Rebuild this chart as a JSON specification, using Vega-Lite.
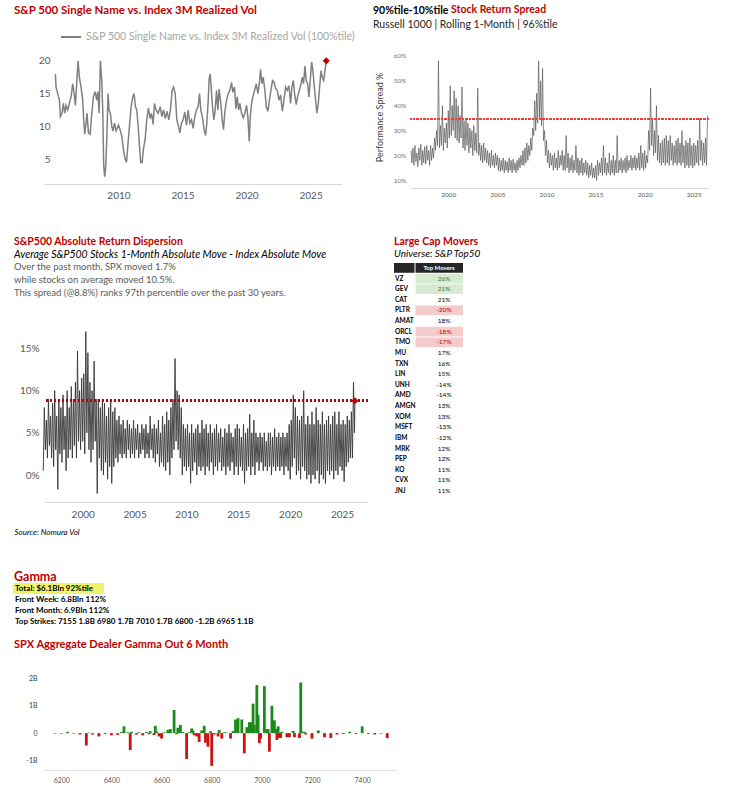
{
"$schema": "https://vega.github.io/schema/vega-lite/v6.json",
"padding": {"left": 13, "top": 4, "right": 4, "bottom": 2},
"background": "white",
"config": {"font": "Lato", "view": {"stroke": null}, "axis": {"labelFont": "Lato", "titleFont": "Lato", "labelOverlap": false}, "legend": {"labelFont": "Lato", "titleFont": "Lato"}, "title": {"font": "Lato", "subtitleFont": "Lato"}},
"datasets": {
"tl": [{"t":2005.08,"v":18},{"t":2005.13,"v":16},{"t":2005.26,"v":15},{"t":2005.39,"v":14},{"t":2005.47,"v":11.5},{"t":2005.6,"v":12},{"t":2005.7,"v":13.5},{"t":2005.81,"v":12},{"t":2005.91,"v":13.2},{"t":2006.04,"v":12.5},{"t":2006.17,"v":13.5},{"t":2006.3,"v":14.5},{"t":2006.43,"v":16.5},{"t":2006.54,"v":15},{"t":2006.64,"v":13.2},{"t":2006.74,"v":16.5},{"t":2006.85,"v":20},{"t":2006.95,"v":17.5},{"t":2007.08,"v":16},{"t":2007.21,"v":14},{"t":2007.29,"v":11},{"t":2007.37,"v":8.8},{"t":2007.47,"v":10.5},{"t":2007.55,"v":12},{"t":2007.66,"v":9},{"t":2007.79,"v":8.8},{"t":2007.92,"v":12},{"t":2008.05,"v":14.5},{"t":2008.18,"v":15.3},{"t":2008.31,"v":14},{"t":2008.39,"v":15.3},{"t":2008.49,"v":12},{"t":2008.59,"v":20},{"t":2008.7,"v":17},{"t":2008.78,"v":12},{"t":2008.85,"v":4},{"t":2008.93,"v":2.3},{"t":2009.01,"v":4},{"t":2009.09,"v":8},{"t":2009.19,"v":15},{"t":2009.27,"v":12.5},{"t":2009.37,"v":12},{"t":2009.48,"v":10},{"t":2009.58,"v":9.3},{"t":2009.69,"v":10.5},{"t":2009.82,"v":9.3},{"t":2010.0,"v":10.2},{"t":2010.13,"v":9.5},{"t":2010.26,"v":8.5},{"t":2010.39,"v":6.5},{"t":2010.52,"v":5},{"t":2010.63,"v":4.5},{"t":2010.73,"v":7},{"t":2010.86,"v":10},{"t":2010.99,"v":13},{"t":2011.12,"v":14.5},{"t":2011.22,"v":15},{"t":2011.33,"v":13},{"t":2011.43,"v":12.5},{"t":2011.54,"v":10},{"t":2011.64,"v":7},{"t":2011.74,"v":4.5},{"t":2011.85,"v":4.5},{"t":2011.95,"v":6.5},{"t":2012.08,"v":8},{"t":2012.21,"v":11},{"t":2012.34,"v":12.8},{"t":2012.47,"v":11.2},{"t":2012.58,"v":12},{"t":2012.71,"v":10.3},{"t":2012.81,"v":13.5},{"t":2012.94,"v":12.5},{"t":2013.1,"v":12},{"t":2013.26,"v":13},{"t":2013.39,"v":11.5},{"t":2013.52,"v":12.5},{"t":2013.65,"v":11.2},{"t":2013.8,"v":12.3},{"t":2013.93,"v":11},{"t":2014.06,"v":12.5},{"t":2014.19,"v":15.5},{"t":2014.3,"v":16},{"t":2014.43,"v":15},{"t":2014.56,"v":11},{"t":2014.69,"v":10},{"t":2014.79,"v":9},{"t":2014.92,"v":10.5},{"t":2015.05,"v":11},{"t":2015.18,"v":12.2},{"t":2015.31,"v":10.2},{"t":2015.44,"v":12.5},{"t":2015.57,"v":10.5},{"t":2015.7,"v":11},{"t":2015.83,"v":9.7},{"t":2015.96,"v":11.5},{"t":2016.09,"v":12.5},{"t":2016.22,"v":13},{"t":2016.33,"v":15},{"t":2016.43,"v":12.5},{"t":2016.56,"v":11.3},{"t":2016.69,"v":9.5},{"t":2016.8,"v":8.6},{"t":2016.9,"v":10.5},{"t":2017.01,"v":14},{"t":2017.08,"v":17.3},{"t":2017.16,"v":18},{"t":2017.24,"v":16},{"t":2017.34,"v":13},{"t":2017.45,"v":11},{"t":2017.55,"v":12.5},{"t":2017.66,"v":15.5},{"t":2017.76,"v":12.5},{"t":2017.86,"v":15.7},{"t":2017.99,"v":13.5},{"t":2018.1,"v":11},{"t":2018.2,"v":9.5},{"t":2018.31,"v":12.3},{"t":2018.44,"v":14},{"t":2018.57,"v":15},{"t":2018.7,"v":15.5},{"t":2018.83,"v":16.7},{"t":2018.93,"v":15.2},{"t":2019.06,"v":16},{"t":2019.17,"v":12.7},{"t":2019.27,"v":14.5},{"t":2019.38,"v":12.5},{"t":2019.48,"v":13.5},{"t":2019.61,"v":12},{"t":2019.74,"v":11.3},{"t":2019.87,"v":12},{"t":2020.0,"v":13.2},{"t":2020.1,"v":11.5},{"t":2020.21,"v":7.7},{"t":2020.29,"v":11.5},{"t":2020.39,"v":13.5},{"t":2020.49,"v":14.5},{"t":2020.63,"v":15.5},{"t":2020.76,"v":16.5},{"t":2020.89,"v":15},{"t":2021.02,"v":17},{"t":2021.09,"v":18.7},{"t":2021.2,"v":16.5},{"t":2021.3,"v":17.5},{"t":2021.43,"v":15.5},{"t":2021.54,"v":13},{"t":2021.67,"v":12.3},{"t":2021.77,"v":13.8},{"t":2021.9,"v":15.5},{"t":2022.03,"v":17},{"t":2022.14,"v":16.8},{"t":2022.27,"v":15.8},{"t":2022.4,"v":15.5},{"t":2022.53,"v":14},{"t":2022.66,"v":14.8},{"t":2022.79,"v":12.3},{"t":2022.92,"v":14},{"t":2023.05,"v":16},{"t":2023.18,"v":15.5},{"t":2023.31,"v":16.2},{"t":2023.44,"v":13.5},{"t":2023.54,"v":16},{"t":2023.65,"v":17},{"t":2023.75,"v":15},{"t":2023.88,"v":13.3},{"t":2023.98,"v":14.5},{"t":2024.09,"v":15.3},{"t":2024.22,"v":16.2},{"t":2024.35,"v":17.5},{"t":2024.45,"v":16.5},{"t":2024.56,"v":19.2},{"t":2024.66,"v":17},{"t":2024.77,"v":16.5},{"t":2024.87,"v":14.5},{"t":2024.97,"v":17},{"t":2025.08,"v":19.8},{"t":2025.18,"v":18.5},{"t":2025.29,"v":16},{"t":2025.39,"v":14},{"t":2025.49,"v":12},{"t":2025.6,"v":13.5},{"t":2025.7,"v":16},{"t":2025.81,"v":18.5},{"t":2025.91,"v":17.5},{"t":2026.02,"v":17},{"t":2026.12,"v":18.5},{"t":2026.22,"v":20}],
"tr": [{"t":1996.2,"v":22},{"t":1996.3,"v":17},{"t":1996.4,"v":23},{"t":1996.5,"v":16},{"t":1996.6,"v":24},{"t":1996.7,"v":17.5},{"t":1996.8,"v":21},{"t":1996.9,"v":15.5},{"t":1997.0,"v":23},{"t":1997.1,"v":18},{"t":1997.2,"v":24.5},{"t":1997.3,"v":16},{"t":1997.4,"v":22},{"t":1997.5,"v":17},{"t":1997.6,"v":23.5},{"t":1997.7,"v":16.5},{"t":1997.8,"v":24},{"t":1997.9,"v":18},{"t":1998.0,"v":22},{"t":1998.1,"v":16},{"t":1998.2,"v":24},{"t":1998.3,"v":18},{"t":1998.4,"v":23},{"t":1998.5,"v":19},{"t":1998.6,"v":27},{"t":1998.7,"v":22},{"t":1998.8,"v":30},{"t":1998.9,"v":24},{"t":1999.0,"v":58},{"t":1999.1,"v":23},{"t":1999.2,"v":32},{"t":1999.3,"v":24},{"t":1999.4,"v":40},{"t":1999.5,"v":22},{"t":1999.6,"v":31},{"t":1999.7,"v":25},{"t":1999.8,"v":33},{"t":1999.9,"v":23},{"t":2000.0,"v":38},{"t":2000.1,"v":27},{"t":2000.2,"v":48},{"t":2000.3,"v":28},{"t":2000.4,"v":40},{"t":2000.5,"v":30},{"t":2000.6,"v":46},{"t":2000.7,"v":27},{"t":2000.8,"v":43},{"t":2000.9,"v":26},{"t":2001.0,"v":40},{"t":2001.1,"v":25},{"t":2001.2,"v":36},{"t":2001.3,"v":27},{"t":2001.4,"v":47.5},{"t":2001.5,"v":23},{"t":2001.6,"v":34},{"t":2001.7,"v":22},{"t":2001.8,"v":35},{"t":2001.9,"v":24},{"t":2002.0,"v":33},{"t":2002.1,"v":21},{"t":2002.2,"v":31},{"t":2002.3,"v":23},{"t":2002.4,"v":30},{"t":2002.5,"v":20},{"t":2002.6,"v":32},{"t":2002.7,"v":22},{"t":2002.8,"v":29},{"t":2002.9,"v":21},{"t":2003.0,"v":47},{"t":2003.1,"v":20},{"t":2003.2,"v":25},{"t":2003.3,"v":18},{"t":2003.4,"v":24},{"t":2003.5,"v":17},{"t":2003.6,"v":25},{"t":2003.7,"v":18},{"t":2003.8,"v":23},{"t":2003.9,"v":17},{"t":2004.0,"v":22},{"t":2004.1,"v":16},{"t":2004.2,"v":21},{"t":2004.3,"v":15},{"t":2004.4,"v":22},{"t":2004.5,"v":16},{"t":2004.6,"v":20},{"t":2004.7,"v":15},{"t":2004.8,"v":21},{"t":2004.9,"v":16},{"t":2005.0,"v":20},{"t":2005.1,"v":14},{"t":2005.2,"v":19},{"t":2005.3,"v":13.5},{"t":2005.4,"v":18},{"t":2005.5,"v":14},{"t":2005.6,"v":19},{"t":2005.7,"v":13},{"t":2005.8,"v":18},{"t":2005.9,"v":14},{"t":2006.0,"v":17.5},{"t":2006.1,"v":13},{"t":2006.2,"v":19},{"t":2006.3,"v":14},{"t":2006.4,"v":18},{"t":2006.5,"v":13},{"t":2006.6,"v":18.5},{"t":2006.7,"v":14},{"t":2006.8,"v":17},{"t":2006.9,"v":13},{"t":2007.0,"v":18},{"t":2007.1,"v":14},{"t":2007.2,"v":19},{"t":2007.3,"v":15},{"t":2007.4,"v":20},{"t":2007.5,"v":16},{"t":2007.6,"v":22},{"t":2007.7,"v":16},{"t":2007.8,"v":23},{"t":2007.9,"v":17},{"t":2008.0,"v":25},{"t":2008.1,"v":18},{"t":2008.2,"v":24},{"t":2008.3,"v":20},{"t":2008.4,"v":27},{"t":2008.5,"v":22},{"t":2008.6,"v":31},{"t":2008.7,"v":28},{"t":2008.8,"v":42},{"t":2008.9,"v":30},{"t":2009.0,"v":45},{"t":2009.1,"v":33},{"t":2009.2,"v":58},{"t":2009.3,"v":35},{"t":2009.4,"v":50},{"t":2009.5,"v":32},{"t":2009.6,"v":55},{"t":2009.7,"v":26},{"t":2009.8,"v":30},{"t":2009.9,"v":20},{"t":2010.0,"v":26},{"t":2010.1,"v":17},{"t":2010.2,"v":22},{"t":2010.3,"v":15},{"t":2010.4,"v":21},{"t":2010.5,"v":16},{"t":2010.6,"v":20},{"t":2010.7,"v":14},{"t":2010.8,"v":21},{"t":2010.9,"v":15},{"t":2011.0,"v":19},{"t":2011.1,"v":14},{"t":2011.2,"v":22},{"t":2011.3,"v":15},{"t":2011.4,"v":20},{"t":2011.5,"v":16},{"t":2011.6,"v":22},{"t":2011.7,"v":14},{"t":2011.8,"v":20},{"t":2011.9,"v":14},{"t":2012.0,"v":28},{"t":2012.1,"v":15},{"t":2012.2,"v":21},{"t":2012.3,"v":13},{"t":2012.4,"v":19},{"t":2012.5,"v":14},{"t":2012.6,"v":20},{"t":2012.7,"v":13},{"t":2012.8,"v":18},{"t":2012.9,"v":14},{"t":2013.0,"v":24},{"t":2013.1,"v":13},{"t":2013.2,"v":19},{"t":2013.3,"v":12},{"t":2013.4,"v":18},{"t":2013.5,"v":13},{"t":2013.6,"v":19},{"t":2013.7,"v":12},{"t":2013.8,"v":17},{"t":2013.9,"v":13},{"t":2014.0,"v":18},{"t":2014.1,"v":12},{"t":2014.2,"v":17},{"t":2014.3,"v":11},{"t":2014.4,"v":16},{"t":2014.5,"v":12},{"t":2014.6,"v":17},{"t":2014.7,"v":11},{"t":2014.8,"v":15},{"t":2014.9,"v":11},{"t":2015.0,"v":16},{"t":2015.1,"v":10},{"t":2015.2,"v":18},{"t":2015.3,"v":12},{"t":2015.4,"v":17},{"t":2015.5,"v":13},{"t":2015.6,"v":19},{"t":2015.7,"v":12},{"t":2015.8,"v":24},{"t":2015.9,"v":13},{"t":2016.0,"v":19},{"t":2016.1,"v":12},{"t":2016.2,"v":17},{"t":2016.3,"v":13},{"t":2016.4,"v":21},{"t":2016.5,"v":12},{"t":2016.6,"v":18},{"t":2016.7,"v":13},{"t":2016.8,"v":20},{"t":2016.9,"v":12},{"t":2017.0,"v":18},{"t":2017.1,"v":13},{"t":2017.2,"v":28},{"t":2017.3,"v":13},{"t":2017.4,"v":18},{"t":2017.5,"v":14},{"t":2017.6,"v":19},{"t":2017.7,"v":13},{"t":2017.8,"v":18},{"t":2017.9,"v":14},{"t":2018.0,"v":19},{"t":2018.1,"v":13},{"t":2018.2,"v":20},{"t":2018.3,"v":14},{"t":2018.4,"v":18},{"t":2018.5,"v":15},{"t":2018.6,"v":20},{"t":2018.7,"v":14},{"t":2018.8,"v":19},{"t":2018.9,"v":15},{"t":2019.0,"v":20},{"t":2019.1,"v":14},{"t":2019.2,"v":19},{"t":2019.3,"v":15},{"t":2019.4,"v":21},{"t":2019.5,"v":14},{"t":2019.6,"v":24},{"t":2019.7,"v":15},{"t":2019.8,"v":21},{"t":2019.9,"v":14},{"t":2020.0,"v":22},{"t":2020.1,"v":15},{"t":2020.2,"v":20},{"t":2020.3,"v":17},{"t":2020.4,"v":30},{"t":2020.5,"v":22},{"t":2020.6,"v":47},{"t":2020.7,"v":24},{"t":2020.8,"v":35},{"t":2020.9,"v":20},{"t":2021.0,"v":30},{"t":2021.1,"v":21},{"t":2021.2,"v":40},{"t":2021.3,"v":18},{"t":2021.4,"v":28},{"t":2021.5,"v":17},{"t":2021.6,"v":25},{"t":2021.7,"v":16},{"t":2021.8,"v":26},{"t":2021.9,"v":17},{"t":2022.0,"v":27},{"t":2022.1,"v":16},{"t":2022.2,"v":28},{"t":2022.3,"v":17},{"t":2022.4,"v":26},{"t":2022.5,"v":16},{"t":2022.6,"v":28},{"t":2022.7,"v":18},{"t":2022.8,"v":25},{"t":2022.9,"v":16},{"t":2023.0,"v":24},{"t":2023.1,"v":17},{"t":2023.2,"v":26},{"t":2023.3,"v":16},{"t":2023.4,"v":27},{"t":2023.5,"v":17},{"t":2023.6,"v":25},{"t":2023.7,"v":16},{"t":2023.8,"v":30},{"t":2023.9,"v":17},{"t":2024.0,"v":24},{"t":2024.1,"v":15},{"t":2024.2,"v":26},{"t":2024.3,"v":16},{"t":2024.4,"v":25},{"t":2024.5,"v":15},{"t":2024.6,"v":27},{"t":2024.7,"v":16},{"t":2024.8,"v":24},{"t":2024.9,"v":15},{"t":2025.0,"v":25},{"t":2025.1,"v":16},{"t":2025.2,"v":24},{"t":2025.3,"v":17},{"t":2025.4,"v":26},{"t":2025.5,"v":16},{"t":2025.6,"v":35},{"t":2025.7,"v":18},{"t":2025.8,"v":26},{"t":2025.9,"v":16},{"t":2026.0,"v":25},{"t":2026.1,"v":17},{"t":2026.2,"v":27},{"t":2026.3,"v":16},{"t":2026.4,"v":36}],
"ml": [{"t":1996.2,"v":0.5},{"t":1996.3,"v":8},{"t":1996.4,"v":3},{"t":1996.5,"v":6.5},{"t":1996.6,"v":2},{"t":1996.7,"v":9},{"t":1996.8,"v":3.5},{"t":1996.9,"v":7},{"t":1997.0,"v":2},{"t":1997.1,"v":8.5},{"t":1997.2,"v":1},{"t":1997.3,"v":10},{"t":1997.4,"v":3},{"t":1997.5,"v":7},{"t":1997.6,"v":-1.7},{"t":1997.7,"v":9},{"t":1997.8,"v":2.5},{"t":1997.9,"v":8},{"t":1998.0,"v":1.5},{"t":1998.1,"v":9.5},{"t":1998.2,"v":3},{"t":1998.3,"v":7},{"t":1998.4,"v":0.5},{"t":1998.5,"v":10},{"t":1998.6,"v":2},{"t":1998.7,"v":8},{"t":1998.8,"v":3},{"t":1998.9,"v":10.5},{"t":1999.0,"v":2},{"t":1999.1,"v":9},{"t":1999.2,"v":3.5},{"t":1999.3,"v":11},{"t":1999.4,"v":2},{"t":1999.5,"v":14.7},{"t":1999.6,"v":4},{"t":1999.7,"v":10},{"t":1999.8,"v":3},{"t":1999.9,"v":11.5},{"t":2000.0,"v":4},{"t":2000.1,"v":12},{"t":2000.2,"v":2.5},{"t":2000.3,"v":17},{"t":2000.4,"v":5},{"t":2000.5,"v":14.5},{"t":2000.6,"v":3},{"t":2000.7,"v":11},{"t":2000.8,"v":1.5},{"t":2000.9,"v":10},{"t":2001.0,"v":3},{"t":2001.1,"v":13.5},{"t":2001.2,"v":4},{"t":2001.3,"v":9},{"t":2001.4,"v":-2.2},{"t":2001.5,"v":9},{"t":2001.6,"v":2},{"t":2001.7,"v":8},{"t":2001.8,"v":0.5},{"t":2001.9,"v":9},{"t":2002.0,"v":0},{"t":2002.1,"v":8.5},{"t":2002.2,"v":1.5},{"t":2002.3,"v":7},{"t":2002.4,"v":-0.5},{"t":2002.5,"v":8},{"t":2002.6,"v":1},{"t":2002.7,"v":9},{"t":2002.8,"v":-1},{"t":2002.9,"v":7.5},{"t":2003.0,"v":1},{"t":2003.1,"v":8},{"t":2003.2,"v":2},{"t":2003.3,"v":6.5},{"t":2003.4,"v":1.5},{"t":2003.5,"v":7},{"t":2003.6,"v":2.5},{"t":2003.7,"v":6},{"t":2003.8,"v":2},{"t":2003.9,"v":6.5},{"t":2004.0,"v":2.5},{"t":2004.1,"v":5.5},{"t":2004.2,"v":2},{"t":2004.3,"v":6.5},{"t":2004.4,"v":3},{"t":2004.5,"v":6},{"t":2004.6,"v":2},{"t":2004.7,"v":5.5},{"t":2004.8,"v":2.5},{"t":2004.9,"v":6.5},{"t":2005.0,"v":2},{"t":2005.1,"v":5.5},{"t":2005.2,"v":3},{"t":2005.3,"v":6},{"t":2005.4,"v":2},{"t":2005.5,"v":5},{"t":2005.6,"v":2.5},{"t":2005.7,"v":6},{"t":2005.8,"v":3},{"t":2005.9,"v":5.5},{"t":2006.0,"v":2},{"t":2006.1,"v":6},{"t":2006.2,"v":2.5},{"t":2006.3,"v":5},{"t":2006.4,"v":2},{"t":2006.5,"v":7},{"t":2006.6,"v":3},{"t":2006.7,"v":5.5},{"t":2006.8,"v":2},{"t":2006.9,"v":6},{"t":2007.0,"v":1.5},{"t":2007.1,"v":5.5},{"t":2007.2,"v":2.5},{"t":2007.3,"v":6.5},{"t":2007.4,"v":1},{"t":2007.5,"v":5},{"t":2007.6,"v":1.5},{"t":2007.7,"v":7},{"t":2007.8,"v":1},{"t":2007.9,"v":6},{"t":2008.0,"v":0.5},{"t":2008.1,"v":7.5},{"t":2008.2,"v":1.5},{"t":2008.3,"v":6.5},{"t":2008.4,"v":0},{"t":2008.5,"v":8},{"t":2008.6,"v":2},{"t":2008.7,"v":9},{"t":2008.8,"v":3},{"t":2008.9,"v":13.8},{"t":2009.0,"v":4},{"t":2009.1,"v":10},{"t":2009.2,"v":3},{"t":2009.3,"v":9.5},{"t":2009.4,"v":2},{"t":2009.5,"v":8},{"t":2009.6,"v":0},{"t":2009.7,"v":6},{"t":2009.8,"v":1},{"t":2009.9,"v":5.5},{"t":2010.0,"v":0.5},{"t":2010.1,"v":6},{"t":2010.2,"v":1},{"t":2010.3,"v":5},{"t":2010.4,"v":-1},{"t":2010.5,"v":6},{"t":2010.6,"v":0.5},{"t":2010.7,"v":5},{"t":2010.8,"v":1.5},{"t":2010.9,"v":5.5},{"t":2011.0,"v":0},{"t":2011.1,"v":6},{"t":2011.2,"v":1},{"t":2011.3,"v":5},{"t":2011.4,"v":0.5},{"t":2011.5,"v":6.5},{"t":2011.6,"v":1},{"t":2011.7,"v":5.5},{"t":2011.8,"v":0},{"t":2011.9,"v":6},{"t":2012.0,"v":1},{"t":2012.1,"v":5},{"t":2012.2,"v":0.5},{"t":2012.3,"v":6},{"t":2012.4,"v":1.5},{"t":2012.5,"v":5},{"t":2012.6,"v":0},{"t":2012.7,"v":5.5},{"t":2012.8,"v":1},{"t":2012.9,"v":6},{"t":2013.0,"v":0.5},{"t":2013.1,"v":5},{"t":2013.2,"v":1.5},{"t":2013.3,"v":5.5},{"t":2013.4,"v":0.5},{"t":2013.5,"v":4.5},{"t":2013.6,"v":1},{"t":2013.7,"v":5.5},{"t":2013.8,"v":0},{"t":2013.9,"v":5},{"t":2014.0,"v":1},{"t":2014.1,"v":6},{"t":2014.2,"v":0.5},{"t":2014.3,"v":5},{"t":2014.4,"v":1.5},{"t":2014.5,"v":4.5},{"t":2014.6,"v":0},{"t":2014.7,"v":5.5},{"t":2014.8,"v":1},{"t":2014.9,"v":6},{"t":2015.0,"v":0},{"t":2015.1,"v":5.5},{"t":2015.2,"v":1},{"t":2015.3,"v":4.5},{"t":2015.4,"v":0.5},{"t":2015.5,"v":6},{"t":2015.6,"v":-1},{"t":2015.7,"v":5},{"t":2015.8,"v":0.5},{"t":2015.9,"v":5.5},{"t":2016.0,"v":1},{"t":2016.1,"v":7.2},{"t":2016.2,"v":0},{"t":2016.3,"v":5},{"t":2016.4,"v":1},{"t":2016.5,"v":6.5},{"t":2016.6,"v":0},{"t":2016.7,"v":5},{"t":2016.8,"v":1.5},{"t":2016.9,"v":4.5},{"t":2017.0,"v":0.5},{"t":2017.1,"v":5},{"t":2017.2,"v":1.5},{"t":2017.3,"v":4.5},{"t":2017.4,"v":0.5},{"t":2017.5,"v":5},{"t":2017.6,"v":1},{"t":2017.7,"v":4},{"t":2017.8,"v":0.5},{"t":2017.9,"v":5},{"t":2018.0,"v":1},{"t":2018.1,"v":5},{"t":2018.2,"v":0},{"t":2018.3,"v":4.5},{"t":2018.4,"v":1},{"t":2018.5,"v":5.5},{"t":2018.6,"v":0.5},{"t":2018.7,"v":4.5},{"t":2018.8,"v":1},{"t":2018.9,"v":5},{"t":2019.0,"v":0.5},{"t":2019.1,"v":4.5},{"t":2019.2,"v":1},{"t":2019.3,"v":5},{"t":2019.4,"v":0},{"t":2019.5,"v":4.5},{"t":2019.6,"v":1},{"t":2019.7,"v":5},{"t":2019.8,"v":0.5},{"t":2019.9,"v":6},{"t":2020.0,"v":-0.5},{"t":2020.1,"v":6.5},{"t":2020.2,"v":1},{"t":2020.3,"v":9.5},{"t":2020.4,"v":2},{"t":2020.5,"v":8},{"t":2020.6,"v":0},{"t":2020.7,"v":7},{"t":2020.8,"v":0.5},{"t":2020.9,"v":6.5},{"t":2021.0,"v":-0.5},{"t":2021.1,"v":7},{"t":2021.2,"v":1},{"t":2021.3,"v":10},{"t":2021.4,"v":0.5},{"t":2021.5,"v":6},{"t":2021.6,"v":-0.5},{"t":2021.7,"v":7},{"t":2021.8,"v":0},{"t":2021.9,"v":6},{"t":2022.0,"v":-1},{"t":2022.1,"v":7.5},{"t":2022.2,"v":0},{"t":2022.3,"v":6},{"t":2022.4,"v":-0.5},{"t":2022.5,"v":8},{"t":2022.6,"v":0.5},{"t":2022.7,"v":6.5},{"t":2022.8,"v":-1},{"t":2022.9,"v":6},{"t":2023.0,"v":0},{"t":2023.1,"v":7.5},{"t":2023.2,"v":-0.5},{"t":2023.3,"v":6},{"t":2023.4,"v":-1},{"t":2023.5,"v":6.5},{"t":2023.6,"v":0.5},{"t":2023.7,"v":7},{"t":2023.8,"v":0},{"t":2023.9,"v":6},{"t":2024.0,"v":0.5},{"t":2024.1,"v":7},{"t":2024.2,"v":-0.5},{"t":2024.3,"v":7.5},{"t":2024.4,"v":0.5},{"t":2024.5,"v":6},{"t":2024.6,"v":0},{"t":2024.7,"v":7.5},{"t":2024.8,"v":1},{"t":2024.9,"v":6},{"t":2025.0,"v":0.5},{"t":2025.1,"v":6.5},{"t":2025.2,"v":-0.8},{"t":2025.3,"v":6},{"t":2025.4,"v":1},{"t":2025.5,"v":7},{"t":2025.6,"v":1.5},{"t":2025.7,"v":6.5},{"t":2025.8,"v":2},{"t":2025.9,"v":7.5},{"t":2026.0,"v":2},{"t":2026.1,"v":11},{"t":2026.2,"v":5},{"t":2026.24,"v":8.8}],
"gamma": [{"k":6175,"g":-0.02},{"k":6200,"g":-0.02},{"k":6225,"g":0.05},{"k":6250,"g":-0.02},{"k":6275,"g":-0.05},{"k":6300,"g":-0.45},{"k":6310,"g":0.02},{"k":6325,"g":-0.05},{"k":6350,"g":-0.12},{"k":6375,"g":-0.03},{"k":6400,"g":-0.08},{"k":6425,"g":-0.06},{"k":6440,"g":0.04},{"k":6450,"g":0.25},{"k":6465,"g":0.03},{"k":6475,"g":-0.62},{"k":6480,"g":0.05},{"k":6500,"g":-0.05},{"k":6510,"g":0.03},{"k":6525,"g":-0.08},{"k":6540,"g":0.04},{"k":6550,"g":-0.04},{"k":6555,"g":0.07},{"k":6570,"g":-0.07},{"k":6575,"g":0.27},{"k":6580,"g":0.06},{"k":6590,"g":-0.12},{"k":6600,"g":-0.2},{"k":6610,"g":0.03},{"k":6625,"g":0.12},{"k":6635,"g":0.15},{"k":6650,"g":0.85},{"k":6660,"g":-0.04},{"k":6665,"g":0.2},{"k":6675,"g":0.3},{"k":6685,"g":0.04},{"k":6700,"g":-0.95},{"k":6710,"g":0.03},{"k":6720,"g":0.17},{"k":6725,"g":0.1},{"k":6730,"g":-0.08},{"k":6740,"g":-0.12},{"k":6750,"g":-0.32},{"k":6760,"g":0.1},{"k":6770,"g":0.27},{"k":6775,"g":-0.35},{"k":6785,"g":-0.5},{"k":6795,"g":0.07},{"k":6800,"g":-1.2},{"k":6810,"g":-0.05},{"k":6825,"g":-0.12},{"k":6830,"g":0.12},{"k":6840,"g":-0.2},{"k":6850,"g":0.03},{"k":6860,"g":0.02},{"k":6875,"g":-0.2},{"k":6885,"g":0.08},{"k":6895,"g":0.5},{"k":6905,"g":0.55},{"k":6920,"g":0.5},{"k":6930,"g":-0.74},{"k":6940,"g":0.22},{"k":6950,"g":0.4},{"k":6955,"g":0.4},{"k":6965,"g":1.08},{"k":6970,"g":0.3},{"k":6980,"g":1.76},{"k":6985,"g":0.67},{"k":6990,"g":-0.37},{"k":6995,"g":-0.2},{"k":7010,"g":1.72},{"k":7020,"g":0.15},{"k":7025,"g":0.15},{"k":7030,"g":-0.68},{"k":7040,"g":1.0},{"k":7050,"g":0.47},{"k":7055,"g":0.15},{"k":7060,"g":-0.25},{"k":7065,"g":0.25},{"k":7070,"g":-0.18},{"k":7075,"g":-0.17},{"k":7080,"g":0.05},{"k":7100,"g":-0.15},{"k":7110,"g":-0.15},{"k":7125,"g":0.08},{"k":7130,"g":-0.15},{"k":7150,"g":-0.18},{"k":7155,"g":1.86},{"k":7160,"g":0.05},{"k":7170,"g":0.05},{"k":7175,"g":-0.05},{"k":7200,"g":-0.2},{"k":7225,"g":0.1},{"k":7250,"g":-0.15},{"k":7275,"g":-0.18},{"k":7300,"g":-0.05},{"k":7325,"g":-0.03},{"k":7350,"g":0.05},{"k":7375,"g":-0.03},{"k":7400,"g":0.25},{"k":7425,"g":-0.03},{"k":7450,"g":-0.05},{"k":7475,"g":-0.02},{"k":7500,"g":-0.18}],
"movers": [{"ticker":"VZ","chg":"26%","flag":"up"},{"ticker":"GEV","chg":"21%","flag":"up"},{"ticker":"CAT","chg":"21%","flag":""},{"ticker":"PLTR","chg":"-20%","flag":"down"},{"ticker":"AMAT","chg":"18%","flag":""},{"ticker":"ORCL","chg":"-18%","flag":"down"},{"ticker":"TMO","chg":"-17%","flag":"down"},{"ticker":"MU","chg":"17%","flag":""},{"ticker":"TXN","chg":"16%","flag":""},{"ticker":"LIN","chg":"15%","flag":""},{"ticker":"UNH","chg":"-14%","flag":""},{"ticker":"AMD","chg":"-14%","flag":""},{"ticker":"AMGN","chg":"13%","flag":""},{"ticker":"XOM","chg":"13%","flag":""},{"ticker":"MSFT","chg":"-13%","flag":""},{"ticker":"IBM","chg":"-12%","flag":""},{"ticker":"MRK","chg":"12%","flag":""},{"ticker":"PEP","chg":"12%","flag":""},{"ticker":"KO","chg":"11%","flag":""},{"ticker":"CVX","chg":"11%","flag":""},{"ticker":"JNJ","chg":"11%","flag":""}]
},
"resolve": {"scale": {"color": "independent"}, "legend": {"color": "independent"}},
"spacing": 34,
"vconcat": [
{"spacing": 4, "resolve": {"scale": {"color": "independent"}, "legend": {"color": "independent"}}, "hconcat": [
 {"spacing": 36, "resolve": {"scale": {"color": "independent"}, "legend": {"color": "independent"}}, "vconcat": [
  {"width": 298, "height": 138, "data": {"name": "tl"},
   "title": {"text": "S&P 500 Single Name vs. Index 3M Realized Vol", "anchor": "start", "frame": "group", "dx": -30, "color": "#c00000", "fontSize": 11.5, "fontWeight": "bold", "offset": 10},
   "layer": [
    {"mark": {"type": "line", "strokeWidth": 1.5},
     "encoding": {
      "x": {"field": "t", "type": "quantitative", "scale": {"domain": [2004.19, 2027.45], "nice": false, "zero": false}, "axis": {"values": [2010, 2015, 2020, 2025], "format": "d", "title": null, "grid": false, "ticks": false, "domainColor": "#d9d9d9", "labelColor": "#595959", "labelFontSize": 10, "labelPadding": 6}},
      "y": {"field": "v", "type": "quantitative", "scale": {"domain": [1.2, 22.27], "nice": false, "zero": false}, "axis": {"values": [5, 10, 15, 20], "title": null, "grid": false, "ticks": false, "domain": false, "labelColor": "#595959", "labelFontSize": 10, "labelPadding": -6}},
      "color": {"datum": "S&P 500 Single Name vs. Index 3M Realized Vol (100%tile)", "type": "nominal", "scale": {"range": ["#808080"]}, "legend": {"orient": "top", "title": null, "symbolType": "stroke", "symbolSize": 400, "symbolStrokeWidth": 2, "symbolOffset": 16, "labelFontSize": 10.5, "labelColor": "#a6a6a6", "labelLimit": 400, "offset": 3, "padding": 0}}
     }},
    {"transform": [{"filter": "datum.t >= 2026.2"}], "mark": {"type": "point", "shape": "diamond", "filled": true, "color": "#c00000", "opacity": 1, "size": 50},
     "encoding": {"x": {"field": "t", "type": "quantitative"}, "y": {"field": "v", "type": "quantitative"}}}
   ]},
  {"title": {"text": "S&P500 Absolute Return Dispersion", "subtitle": "Average S&P500 Stocks 1-Month Absolute Move - Index Absolute Move", "anchor": "start", "color": "#c00000", "fontSize": 10.5, "fontWeight": "bold", "subtitleFontSize": 10.5, "subtitleFontStyle": "italic", "subtitleColor": "#000000", "subtitlePadding": 3, "offset": 1},
   "hconcat": [
    {"width": 324, "height": 178, "data": {"name": "ml"},
     "title": {"text": ["Over the past month, SPX moved 1.7%", "while stocks on average moved 10.5%.", "This spread (@8.8%) ranks 97th percentile over the past 30 years."], "anchor": "start", "frame": "group", "dx": -30, "color": "#595959", "fontSize": 9.5, "fontWeight": "normal", "lineHeight": 13, "offset": 27},
     "layer": [
      {"mark": {"type": "line", "strokeWidth": 0.9, "color": "#383838"},
       "encoding": {
        "x": {"field": "t", "type": "quantitative", "scale": {"domain": [1996.27, 2027.5], "nice": false, "zero": false}, "axis": {"values": [2000, 2005, 2010, 2015, 2020, 2025], "format": "d", "grid": false, "ticks": false, "domainColor": "#d9d9d9", "labelColor": "#595959", "labelFontSize": 10, "labelPadding": 7, "title": "Source: Nomura Vol", "titleX": -30, "titleY": 30, "titleAlign": "left", "titleBaseline": "middle", "titleFontStyle": "italic", "titleFontSize": 8, "titleFontWeight": "normal", "titleColor": "#000000"}},
        "y": {"field": "v", "type": "quantitative", "scale": {"domain": [-3.2, 17.9], "nice": false, "zero": false}, "axis": {"values": [0, 5, 10, 15], "labelExpr": "datum.value + '%'", "title": null, "grid": false, "ticks": false, "domain": false, "labelColor": "#595959", "labelFontSize": 10, "labelPadding": 5}}
       }},
      {"mark": {"type": "rule", "color": "#c00000", "strokeDash": [2, 2], "strokeWidth": 2}, "encoding": {"y": {"datum": 8.8, "type": "quantitative"}}},
      {"transform": [{"filter": "datum.t >= 2026.23"}], "mark": {"type": "point", "shape": "diamond", "filled": true, "color": "#c00000", "opacity": 1, "size": 50},
       "encoding": {"x": {"field": "t", "type": "quantitative"}, "y": {"field": "v", "type": "quantitative"}}}
     ]}
   ]}
 ]},
 {"spacing": 38, "resolve": {"scale": {"color": "independent"}, "legend": {"color": "independent"}}, "vconcat": [
  {"title": {"text": "Stock Return Spread", "anchor": "start", "color": "#c00000", "fontSize": 10.5, "fontWeight": "bold", "offset": -9, "dx": 78},
   "hconcat": [
    {"width": 299, "height": 142, "data": {"name": "tr"},
     "title": {"text": "90%tile-10%tile", "subtitle": "Russell 1000 | Rolling 1-Month | 96%tile", "anchor": "start", "frame": "group", "dx": -37, "color": "#000000", "fontSize": 10.5, "fontWeight": "bold", "subtitleFontSize": 10.5, "subtitleColor": "#262626", "subtitlePadding": 3, "offset": 16},
     "resolve": {"axis": {"y": "independent"}},
     "layer": [
      {"mark": {"type": "line", "strokeWidth": 0.7, "color": "#595959"},
       "encoding": {
        "x": {"field": "t", "type": "quantitative", "scale": {"domain": [1996.1, 2026.55], "nice": false, "zero": false}, "axis": {"values": [2000, 2005, 2010, 2015, 2020, 2025], "format": "d", "title": null, "grid": false, "ticks": false, "labelOverlap": false, "domainColor": "#d9d9d9", "labelColor": "#595959", "labelFontSize": 6.5, "labelPadding": 3}},
        "y": {"field": "v", "type": "quantitative", "scale": {"domain": [6.9, 64], "nice": false, "zero": false}, "axis": {"orient": "left", "values": [10, 30, 50], "labelExpr": "datum.value + '%'", "title": "Performance Spread %", "titleFontSize": 9, "titleFontWeight": "normal", "titleColor": "#404040", "titlePadding": 9, "grid": false, "ticks": false, "domain": false, "labelColor": "#737373", "labelFontSize": 6.5, "labelPadding": 4}}
       }},
      {"mark": {"type": "rule", "color": "#e8413c", "strokeDash": [2, 1.5], "strokeWidth": 1},
       "encoding": {"y": {"datum": 34.5, "type": "quantitative", "axis": {"orient": "left", "values": [20, 40, 60], "labelExpr": "datum.value + '%'", "title": null, "grid": false, "ticks": false, "domain": false, "labelColor": "#737373", "labelFontSize": 6.5, "labelPadding": 4}}}}
     ]}
   ]},
  {"width": 53, "height": 233, "data": {"name": "movers"},
   "title": {"text": "Large Cap Movers", "subtitle": "Universe: S&P Top50", "anchor": "start", "frame": "group", "dx": -16, "color": "#c00000", "fontSize": 10.5, "fontWeight": "bold", "subtitleFontSize": 10, "subtitleFontStyle": "italic", "subtitleColor": "#000000", "subtitlePadding": 2, "offset": 4},
   "encoding": {"y": {"field": "ticker", "type": "nominal", "scale": {"domain": ["HDR", "VZ", "GEV", "CAT", "PLTR", "AMAT", "ORCL", "TMO", "MU", "TXN", "LIN", "UNH", "AMD", "AMGN", "XOM", "MSFT", "IBM", "MRK", "PEP", "KO", "CVX", "JNJ"], "paddingInner": 0.08, "paddingOuter": 0}, "axis": null}},
   "layer": [
    {"data": {"values": [{"ticker": "HDR", "label": "Top Movers"}]}, "mark": {"type": "bar", "color": "#262626"}, "encoding": {"x": {"datum": 0, "type": "quantitative", "scale": {"domain": [16, 69], "nice": false, "zero": false}, "axis": null}, "x2": {"datum": 20.5}}},
    {"data": {"values": [{"ticker": "HDR", "label": "Top Movers"}]}, "mark": {"type": "bar", "color": "#262626"}, "encoding": {"x": {"datum": 21.5, "type": "quantitative"}, "x2": {"datum": 69}}},
    {"data": {"values": [{"ticker": "HDR", "label": "Top Movers"}]}, "mark": {"type": "text", "color": "#ffffff", "fontSize": 6, "fontWeight": "bold"}, "encoding": {"x": {"datum": 45, "type": "quantitative"}, "text": {"field": "label"}}},
    {"transform": [{"filter": "datum.flag != ''"}], "mark": {"type": "bar"}, "encoding": {"x": {"datum": 21.5, "type": "quantitative"}, "x2": {"datum": 69}, "color": {"field": "flag", "type": "nominal", "scale": {"domain": ["up", "down"], "range": ["#d9ead3", "#f4cccc"]}, "legend": null}}},
    {"mark": {"type": "text", "align": "left", "fontSize": 6.5, "fontWeight": "bold", "color": "#000000"}, "encoding": {"x": {"datum": 1, "type": "quantitative"}, "text": {"field": "ticker"}}},
    {"mark": {"type": "text", "fontSize": 6.5}, "encoding": {"x": {"datum": 50, "type": "quantitative"}, "text": {"field": "chg"}, "color": {"condition": [{"test": "datum.flag == 'up'", "value": "#2e7d32"}, {"test": "datum.flag == 'down'", "value": "#c00000"}], "value": "#000000"}}}
   ]}
 ]}
]},
{"spacing": 12, "vconcat": [
 {"width": 300, "height": 44,
  "title": {"text": "Gamma", "anchor": "start", "frame": "group", "dx": -30, "color": "#c00000", "fontSize": 12.5, "fontWeight": "bold", "offset": 0},
  "data": {"values": [{"line": "Total: $6.1Bln 92%tile", "key": "total"}, {"line": "Front Week: 6.8Bln 112%", "key": ""}, {"line": "Front Month: 6.9Bln 112%", "key": ""}, {"line": "Top Strikes: 7155 1.8B 6980 1.7B 7010 1.7B 6800 -1.2B 6965 1.1B", "key": ""}]},
  "encoding": {"y": {"field": "line", "type": "nominal", "scale": {"domain": ["Total: $6.1Bln 92%tile", "Front Week: 6.8Bln 112%", "Front Month: 6.9Bln 112%", "Top Strikes: 7155 1.8B 6980 1.7B 7010 1.7B 6800 -1.2B 6965 1.1B"], "paddingInner": 0, "paddingOuter": 0}, "axis": null}},
  "layer": [
   {"transform": [{"filter": "datum.key == 'total'"}], "mark": {"type": "bar", "color": "#eef36a"}, "encoding": {"x": {"datum": -31, "type": "quantitative", "scale": {"domain": [0, 300], "nice": false, "zero": false}, "axis": null}, "x2": {"datum": 60}}},
   {"mark": {"type": "text", "align": "left", "fontSize": 8, "fontWeight": "bold", "color": "#000000"}, "encoding": {"x": {"datum": -29, "type": "quantitative"}, "text": {"field": "line"}}}
  ]},
 {"width": 353, "height": 101, "data": {"name": "gamma"},
  "title": {"text": "SPX Aggregate Dealer Gamma Out 6 Month", "anchor": "start", "frame": "group", "dx": -30, "color": "#c00000", "fontSize": 11, "fontWeight": "bold", "offset": 19},
  "mark": {"type": "bar", "size": 2.8},
  "encoding": {
   "x": {"field": "k", "type": "quantitative", "scale": {"domain": [6151.1, 7519], "nice": false, "zero": false}, "axis": {"values": [6200, 6400, 6600, 6800, 7000, 7200, 7400], "format": "d", "title": null, "grid": false, "ticks": false, "domainColor": "#e0e0e0", "labelColor": "#595959", "labelFontSize": 7, "labelPadding": 6}},
   "y": {"field": "g", "type": "quantitative", "scale": {"domain": [-1.35, 2.35], "nice": false}, "axis": {"values": [-1, 0, 1, 2], "labelExpr": "datum.value == 0 ? '0' : datum.value + 'B'", "title": null, "grid": false, "ticks": false, "domain": false, "labelColor": "#404040", "labelFontSize": 7, "labelPadding": 7}},
   "color": {"condition": {"test": "datum.g < 0", "value": "#cc1111"}, "value": "#1a8a1a"}
  }}
]}
]
}
